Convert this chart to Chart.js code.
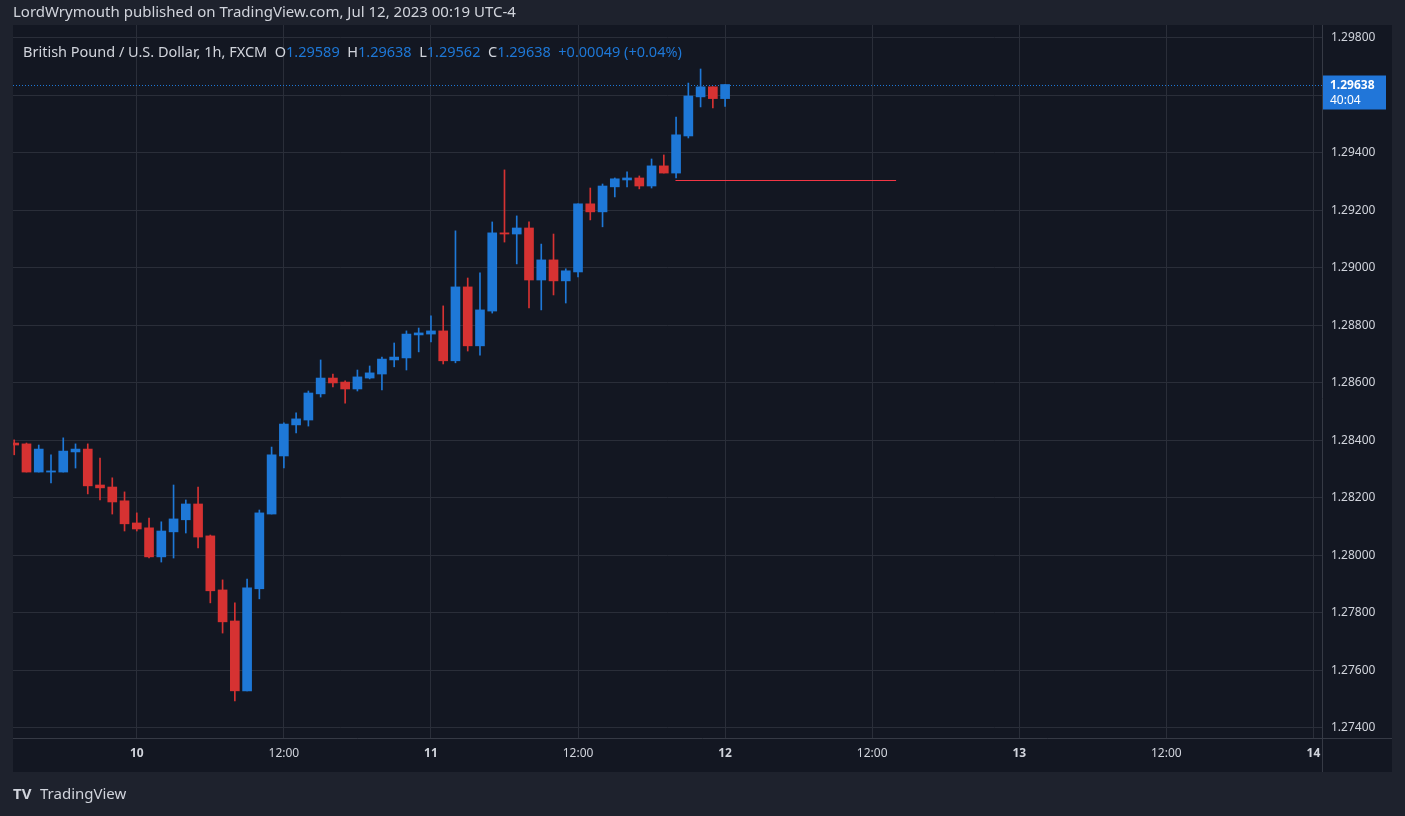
<!DOCTYPE html>
<html><head><meta charset="utf-8">
<script src="https://cdn.jsdelivr.net/npm/chart.js@4.4.0/dist/chart.umd.min.js"></script>
<style>html,body{margin:0;padding:0;background:#1e222d;overflow:hidden}canvas{display:block}</style>
</head><body>
<div style="width:1405px;height:816px;position:relative"><canvas id="c" width="1405" height="816"></canvas></div>
<script>
// hours relative to Jul 10 00:00
const hours = Array.from({length:59},(_,i)=>i-10);
const opens  = [1.28391,1.28388,1.28290,1.28290,1.28290,1.28360,1.28370,1.28245,1.28238,1.28190,1.28113,1.28096,1.27995,1.28082,1.28124,1.28179,1.28068,1.27880,1.27772,1.27529,1.27884,1.28144,1.28346,1.28454,1.28471,1.28562,1.28617,1.28603,1.28579,1.28617,1.28631,1.28680,1.28687,1.28767,1.28770,1.28781,1.28677,1.28934,1.28729,1.28850,1.29122,1.29118,1.29139,1.28958,1.29028,1.28955,1.28986,1.29223,1.29195,1.29282,1.29306,1.29313,1.29285,1.29355,1.29330,1.29459,1.29595,1.29630,1.29589];
const highs  = [1.28402,1.28391,1.28384,1.28350,1.28409,1.28388,1.28388,1.28339,1.28270,1.28221,1.28148,1.28130,1.28117,1.28245,1.28193,1.28238,1.28071,1.27915,1.27835,1.27918,1.28158,1.28377,1.28461,1.28496,1.28572,1.28680,1.28631,1.28607,1.28645,1.28659,1.28690,1.28739,1.28781,1.28791,1.28833,1.28868,1.29129,1.28965,1.28983,1.29160,1.29341,1.29181,1.29160,1.29083,1.29118,1.28997,1.29223,1.29278,1.29292,1.29313,1.29334,1.29320,1.29379,1.29393,1.29525,1.29643,1.29692,1.29630,1.29638];
const lows   = [1.28350,1.28290,1.28290,1.28252,1.28290,1.28304,1.28214,1.28193,1.28144,1.28085,1.28085,1.27991,1.27977,1.27991,1.28078,1.28026,1.27835,1.27730,1.27494,1.27529,1.27849,1.28144,1.28304,1.28426,1.28450,1.28551,1.28586,1.28530,1.28572,1.28614,1.28576,1.28656,1.28645,1.28708,1.28743,1.28666,1.28670,1.28711,1.28697,1.28843,1.29090,1.29014,1.28861,1.28854,1.28906,1.28878,1.28969,1.29167,1.29143,1.29247,1.29282,1.29275,1.29278,1.29330,1.29313,1.29452,1.29560,1.29557,1.29562];
const closes = [1.28384,1.28290,1.28370,1.28294,1.28363,1.28370,1.28242,1.28235,1.28186,1.28110,1.28092,1.27995,1.28085,1.28127,1.28179,1.28064,1.27877,1.27769,1.27529,1.27887,1.28148,1.28350,1.28457,1.28475,1.28565,1.28617,1.28600,1.28579,1.28621,1.28635,1.28683,1.28690,1.28770,1.28774,1.28781,1.28677,1.28934,1.28729,1.28854,1.29122,1.29118,1.29139,1.28958,1.29028,1.28955,1.28990,1.29223,1.29195,1.29285,1.29310,1.29313,1.29285,1.29355,1.29330,1.29463,1.29598,1.29630,1.29589,1.29638];
const priceTicks = [1.274,1.276,1.278,1.280,1.282,1.284,1.286,1.288,1.290,1.292,1.294,1.296,1.298];
const timeTicks = [0,12,24,36,48,60,72,84,96];
const timeLabels = ["10","12:00","11","12:00","12","12:00","13","12:00","14"];
const lastPrice = 1.29638, countdown = "40:04";
const levelPrice = 1.29306, levelFrom = 43.95, levelTo = 61.95;

const UP='#1e78d7', DN='#d63232';
const cols = opens.map((o,i)=>closes[i]>=o?UP:DN);
const bodies = hours.map((h,i)=>({x:h,y:[opens[i],closes[i]===opens[i]?closes[i]+0.00002:closes[i]]}));
const wicks = hours.map((h,i)=>({x:h,y:[lows[i],highs[i]]}));
const FONT='"Noto Sans", Roboto, sans-serif';

const deco = {
  id:'deco',
  beforeDraw(c){
    const g=c.ctx; g.save();
    g.fillStyle='#1e222d'; g.fillRect(0,0,1405,816);
    g.fillStyle='#131722'; g.fillRect(13,25,1379,747);
    g.restore();
  },
  afterDatasetsDraw(c){
    const g=c.ctx, x=c.scales.x, y=c.scales.y, a=c.chartArea; g.save();
    const ly=Math.round(y.getPixelForValue(levelPrice));
    g.fillStyle='#f23645';
    g.fillRect(x.getPixelForValue(levelFrom),ly,x.getPixelForValue(levelTo)-x.getPixelForValue(levelFrom),1);
    const py=Math.round(y.getPixelForValue(lastPrice))+0.5;
    g.strokeStyle=UP; g.lineWidth=1; g.setLineDash([1,2]); g.beginPath(); g.moveTo(a.left,py); g.lineTo(a.right,py); g.stroke(); g.setLineDash([]);
    g.strokeStyle='#363a45'; g.beginPath();
    g.moveTo(a.right+0.5,25); g.lineTo(a.right+0.5,772);
    g.moveTo(13,a.bottom+0.5); g.lineTo(1392,a.bottom+0.5); g.stroke();
    g.fillStyle='#2176d9'; g.fillRect(a.right+1,py-10,63,34);
    g.fillStyle='#ffffff'; g.font='bold 12px '+FONT; g.textBaseline='middle'; g.textAlign='left';
    g.fillText(lastPrice.toFixed(5),a.right+8,py);
    g.font='12px '+FONT; g.fillText(countdown,a.right+8,py+15);
    g.fillStyle='#d1d4dc'; g.font='15px '+FONT; g.fillText('LordWrymouth published on TradingView.com, Jul 12, 2023 00:19 UTC-4',13,13);
    let tx=23; const ty=53;
    const seg=(t,c)=>{g.fillStyle=c; g.fillText(t,tx,ty); tx+=g.measureText(t).width;};
    g.font='14.5px '+FONT;
    seg('British Pound / U.S. Dollar, 1h, FXCM  ','#d1d4dc');
    seg('O','#d1d4dc'); seg('1.29589  ',UP);
    seg('H','#d1d4dc'); seg('1.29638  ',UP);
    seg('L','#d1d4dc'); seg('1.29562  ',UP);
    seg('C','#d1d4dc'); seg('1.29638  ',UP);
    seg('+0.00049 (+0.04%)',UP);
    g.fillStyle='#d1d4dc'; g.font='bold 15px '+FONT; g.fillText('TV',13,795);
    g.font='15px '+FONT; g.fillText('TradingView',40,795);
    g.restore();
  }
};

new Chart(document.getElementById('c'),{
  type:'bar',
  data:{datasets:[
    {data:wicks,backgroundColor:cols,barThickness:1,grouped:false,order:2},
    {data:bodies,backgroundColor:cols,barThickness:9,grouped:false,order:1}
  ]},
  options:{
    responsive:false,animation:false,
    layout:{padding:{left:13,top:25,right:13,bottom:44}},
    plugins:{legend:{display:false},tooltip:{enabled:false}},
    scales:{
      x:{type:'linear',min:-10.1,max:96.7,offset:false,
        grid:{color:'#2a2e39',drawTicks:false,offset:false},border:{display:false},
        afterBuildTicks(s){s.ticks=timeTicks.map(v=>({value:v}));},
        afterFit(s){s.height=34;},
        ticks:{color:'#d1d4dc',padding:8,maxRotation:0,autoSkip:false,
          font:(ctx)=>({family:FONT,size:12,weight:(ctx.index%2===0)?'bold':'normal'}),
          callback:(v,i)=>timeLabels[i]}},
      y:{position:'right',min:1.27365,max:1.29845,
        grid:{color:'#2a2e39',drawTicks:false},border:{display:false},
        afterBuildTicks(s){s.ticks=priceTicks.map(v=>({value:v}));},
        afterFit(s){s.width=70;},
        ticks:{color:'#d1d4dc',padding:9,font:{family:FONT,size:12},callback:(v)=>v.toFixed(5)}}
    }
  },
  plugins:[deco]
});
</script>
</body></html>
